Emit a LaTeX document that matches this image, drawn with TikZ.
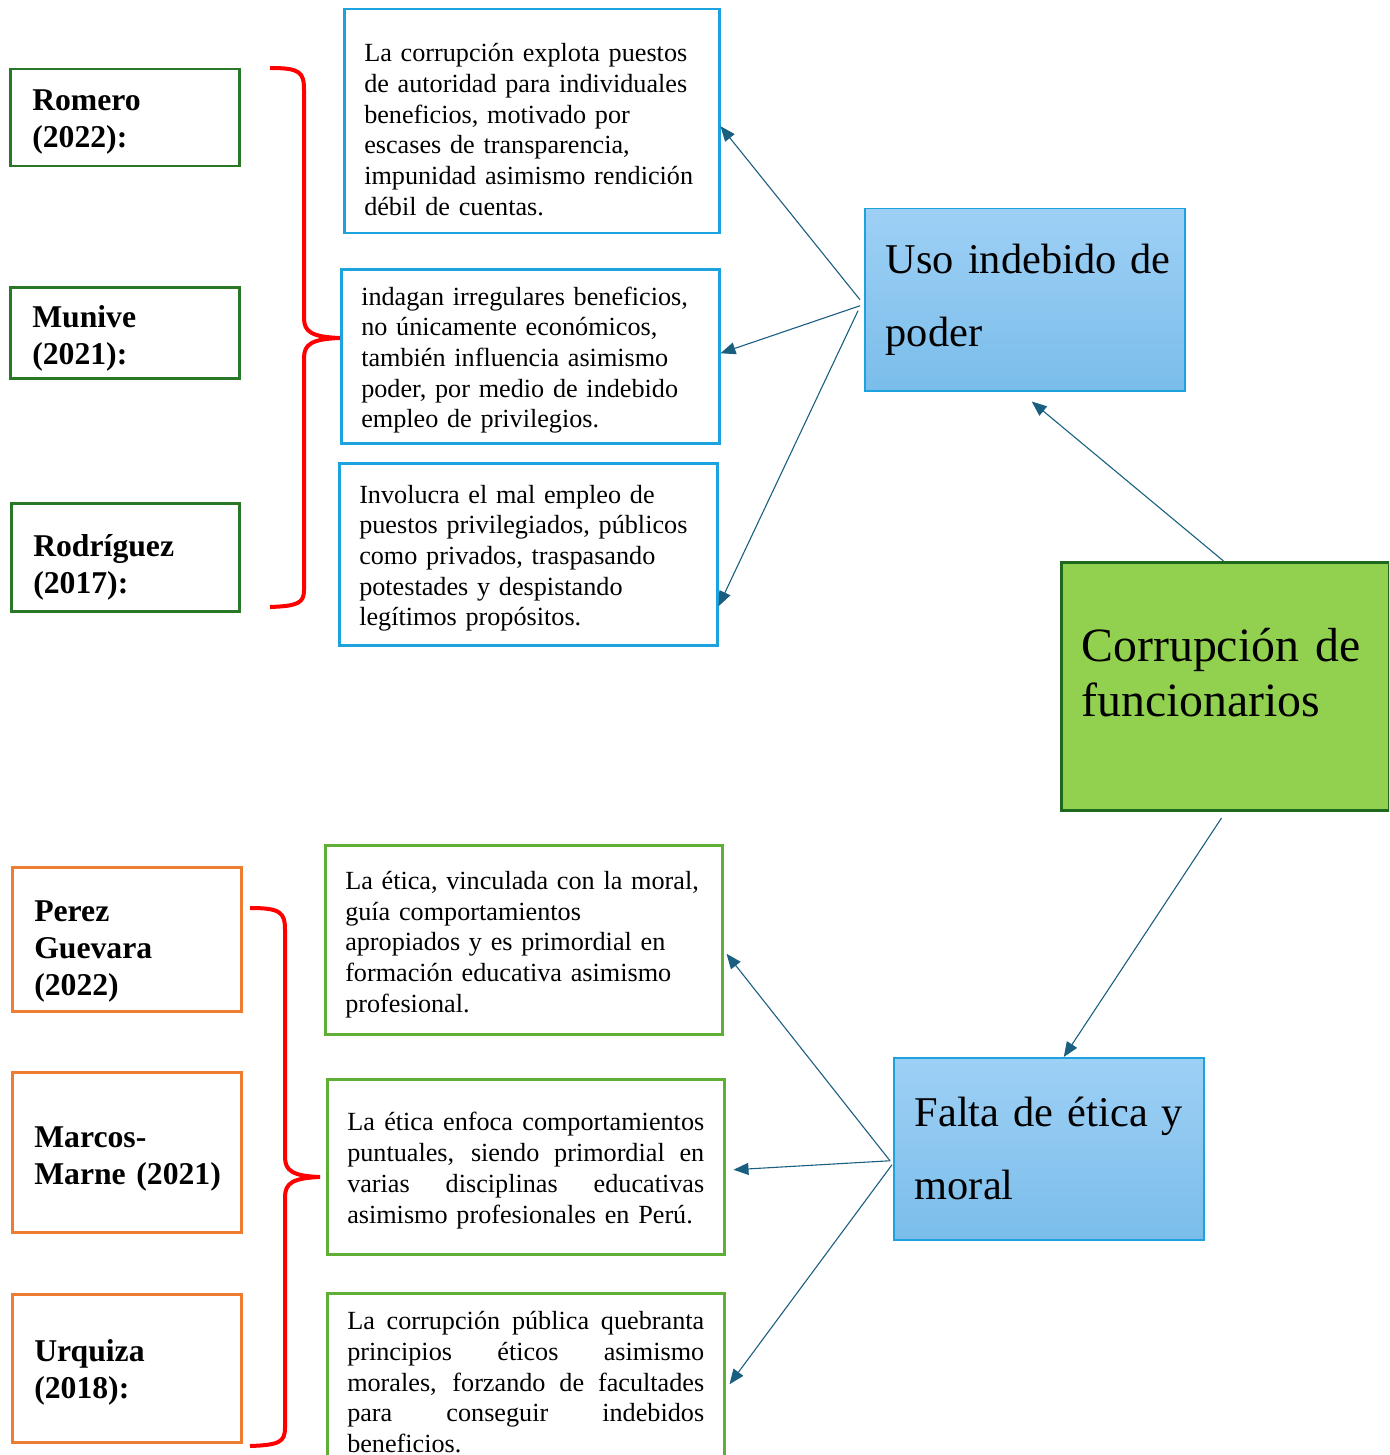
\documentclass[tikz,border=0pt]{standalone}
\usepackage{fontspec}
\setmainfont{Liberation Serif}
\usetikzlibrary{arrows.meta}

\definecolor{verdeautor}{RGB}{40,120,40}
\definecolor{naranja}{RGB}{237,125,49}
\definecolor{azulborde}{RGB}{28,162,220}
\definecolor{verdetexto}{RGB}{95,175,55}
\definecolor{verdecentro}{RGB}{146,208,80}
\definecolor{verdeoscuro}{RGB}{30,105,30}
\definecolor{celesteA}{RGB}{158,208,245}
\definecolor{celesteB}{RGB}{122,189,234}
\definecolor{flechac}{RGB}{26,95,128}

\newcommand{\lineaj}[1]{\makebox[357pt][s]{\spaceskip=0.25em plus 1fil\relax #1}\\}
\newcommand{\alto}[1]{\rule{0pt}{#1pt}}

\tikzset{
  caja/.style 2 args={inner sep=0pt, anchor=north west, align=left,
    minimum width=#1pt, text width=#1pt, minimum height=#2pt},
  autor/.style={draw=verdeautor, line width=2.5pt,
    font=\fontsize{31.7pt}{37pt}\selectfont\bfseries,
    execute at begin node={\leftskip=22pt}},
  autorn/.style={autor, draw=naranja},
  cita/.style={draw=azulborde, line width=2.5pt,
    font=\fontsize{26.2pt}{30.7pt}\selectfont,
    execute at begin node={\leftskip=20pt}},
  citav/.style={cita, draw=verdetexto},
  tema/.style={draw=azulborde, line width=1.5pt, top color=celesteA, bottom color=celesteB,
    font=\fontsize{42.4pt}{73pt}\selectfont,
    execute at begin node={\leftskip=21pt}},
  central/.style={draw=verdeoscuro, fill=verdecentro, line width=3pt,
    font=\fontsize{47.8pt}{55pt}\selectfont,
    execute at begin node={\leftskip=20pt}},
  flecha/.style={draw=flechac, line width=1.1pt, -{Triangle[length=15pt,width=12pt]}},
  llave/.style={draw=red, line width=4pt}
}

\begin{document}
\begin{tikzpicture}[x=1pt,y=1pt,yscale=-1]
\useasboundingbox (0,0) rectangle (1389,1455);
\clip (0,0) rectangle (1389,1455);

%Shape: Rectangle (autores arriba)
\node[caja={229}{97}, autor] (romero) at (9,68) {\alto{30}Romero\\(2022):};
\node[caja={229}{91}, autor] (munive) at (9,286) {\alto{34}Munive\\(2021):};
\node[caja={228}{108}, autor] (rodriguez) at (10,502) {\alto{42}Rodríguez\\(2017):};

%Shape: Rectangle (autores abajo)
\node[caja={229}{144}, autorn] (perez) at (11,866) {\alto{46}Perez\\Guevara\\(2022)};
\node[caja={229}{160}, autorn] (marcos) at (11,1071) {\alto{34}Marcos-\\Marne (2021)};
\node[caja={229}{148}, autorn] (urquiza) at (11,1293) {\alto{30}Urquiza\\(2018):};

%Shape: Brace
\draw[llave] (270,68) .. controls (300,68) and (304,72) .. (304,90) -- (304,318)
  .. controls (304,332) and (312,337) .. (340,338)
  .. controls (312,339) and (304,344) .. (304,358) -- (304,590)
  .. controls (304,603) and (298,606) .. (270,607);
%Shape: Brace
\draw[llave] (250,908) .. controls (280,908) and (285,912) .. (285,930) -- (285,1157)
  .. controls (285,1171) and (293,1176) .. (320,1177)
  .. controls (293,1178) and (285,1183) .. (285,1197) -- (285,1428)
  .. controls (285,1442) and (279,1445) .. (250,1446);

% Text Node
\node[caja={375}{224}, cita] (b1) at (343,8) {\alto{35}La corrupción explota puestos\\de autoridad para individuales\\beneficios, motivado por\\escases de transparencia,\\impunidad asimismo rendición\\débil de cuentas.};
% Text Node
\node[caja={378}{174}, cita] (b2) at (340,268) {\alto{26}indagan irregulares beneficios,\\no únicamente económicos,\\también influencia asimismo\\poder, por medio de indebido\\empleo de privilegios.};
% Text Node
\node[caja={378}{182}, cita] (b3) at (338,462) {\alto{26}Involucra el mal empleo de\\puestos privilegiados, públicos\\como privados, traspasando\\potestades y despistando\\legítimos propósitos.};

% Text Node
\node[caja={397}{189}, citav] (g1) at (324,844) {\alto{28}La ética, vinculada con la moral,\\guía comportamientos\\apropiados y es primordial en\\formación educativa asimismo\\profesional.};
% Text Node
\node[caja={397}{175}, citav] (g2) at (326,1078) {\alto{26}\lineaj{La ética enfoca comportamientos}\lineaj{puntuales, siendo primordial en}\lineaj{varias disciplinas educativas}asimismo profesionales en Perú.};
% Text Node
\node[caja={397}{178}, citav] (g3) at (326,1292) {\lineaj{La corrupción pública quebranta}\lineaj{principios éticos asimismo}\lineaj{morales, forzando de facultades}\lineaj{para conseguir indebidos}beneficios.};

%Shape: Rectangle (temas)
\node[caja={320}{182}, tema] (uso) at (864,208) {Uso indebido de\\poder};
\node[caja={310}{182}, tema] (falta) at (893,1057) {Falta de ética y\\moral};
\node[caja={328}{248}, central] (corr) at (1060,561) {Corrupción de\\funcionarios\rule[-28pt]{0pt}{0pt}};

%Straight Lines
\draw[flecha] ([xshift=-4pt]uso.west) -- ([yshift=5pt]b1.east);
\draw[flecha] ([xshift=-4pt,yshift=6pt]uso.west) -- ([yshift=-3pt]b2.east);
\draw[flecha] ([xshift=-6pt,yshift=11pt]uso.west) -- ([yshift=52pt]b3.east);
\draw[flecha] ([xshift=-2pt]corr.north) -- ([xshift=7pt,yshift=10pt]uso.south);
\draw[flecha] ([xshift=-4pt,yshift=6pt]corr.south) -- ([xshift=15pt]falta.north);
\draw[flecha] ([xshift=-3pt,yshift=12pt]falta.west) -- ([xshift=3pt,yshift=14pt]g1.east);
\draw[flecha] ([xshift=-3pt,yshift=12pt]falta.west) -- ([xshift=8pt,yshift=3pt]g2.east);
\draw[flecha] ([xshift=-1pt,yshift=16pt]falta.west) -- ([xshift=4pt,yshift=2pt]g3.east);

\end{tikzpicture}
\end{document}
